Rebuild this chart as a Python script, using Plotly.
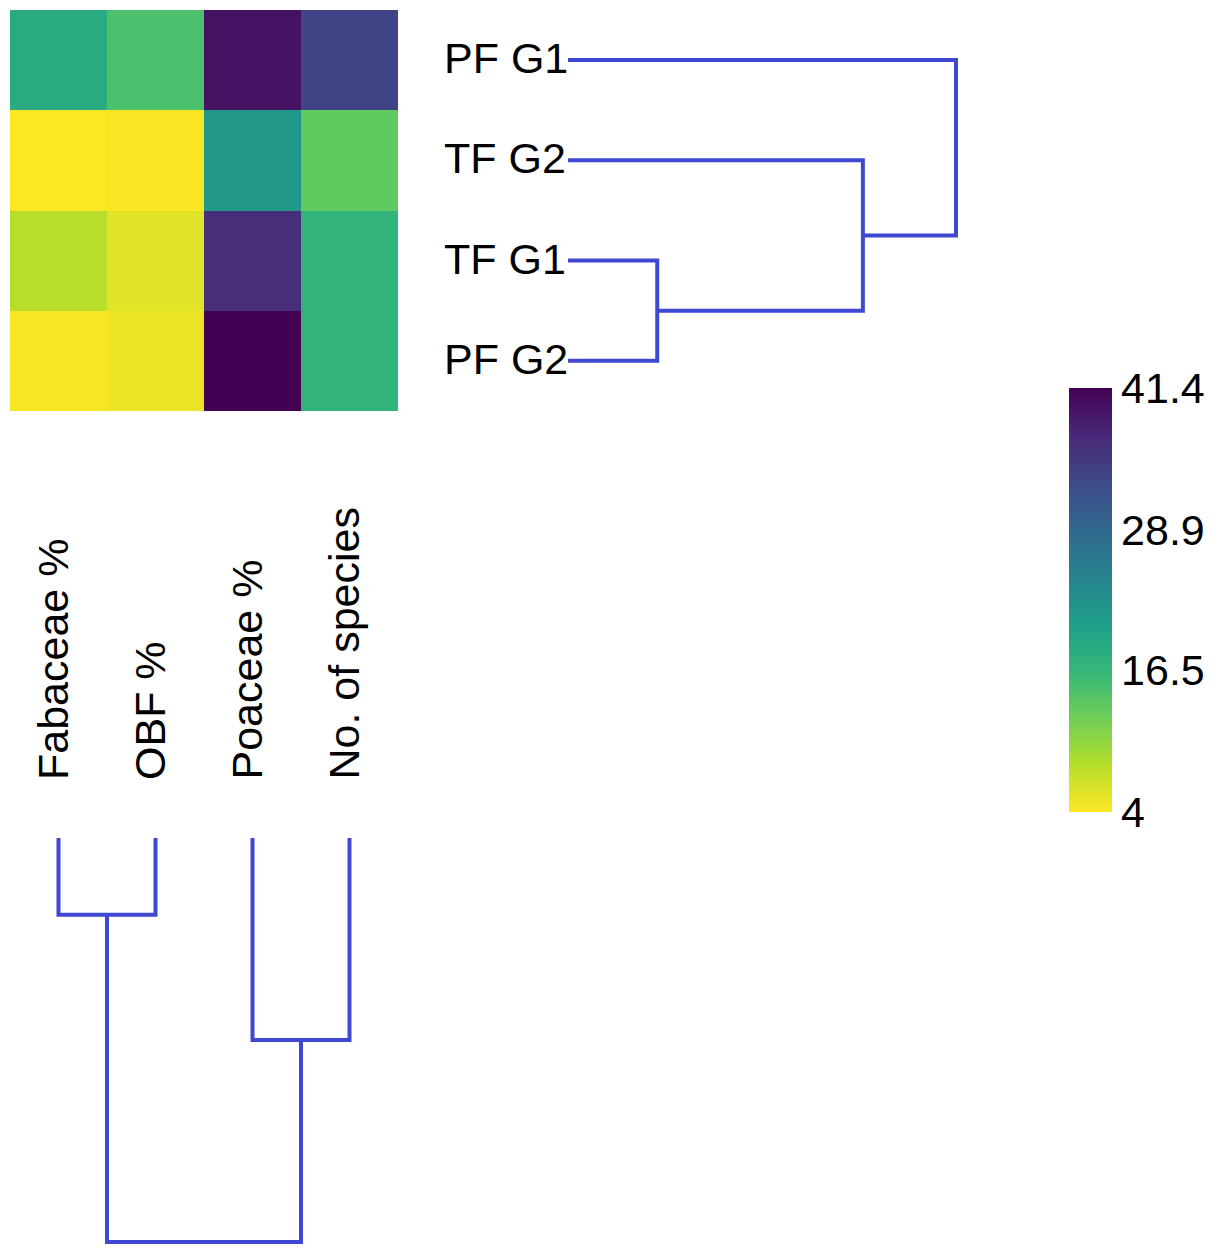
import plotly.graph_objects as go

# ---------------- data ----------------
row_labels = ["PF G1", "TF G2", "TF G1", "PF G2"]
col_labels = ["Fabaceae %", "OBF %", "Poaceae %", "No. of species"]

fabaceae = [18.6, 4.0, 8.1, 4.4]
obf = [14.8, 4.3, 5.7, 5.0]
poaceae = [39.5, 21.6, 36.5, 41.4]
species = [33.9, 13.3, 17.1, 17.1]

# linkage: (left child, right child, merge height); children >= n are clusters
row_linkage = [(2, 3, 0.23), (1, 4, 0.76), (0, 5, 1.0)]
col_linkage = [(0, 1, 0.19), (2, 3, 0.50), (4, 5, 1.0)]

cbar_ticks = [4, 16.5, 28.9, 41.4]
zmin, zmax = 4, 41.4

# ---------------- helpers ----------------
W, H = 1216, 1256
OFF = 8  # page body margin


def px_x(p):
    return (p - OFF) / W


def px_y(p):
    return 1 - (p - OFF) / H


def dendro(linkage, n):
    pos = {i: float(i) for i in range(n)}
    hgt = {i: 0.0 for i in range(n)}
    p_list, h_list = [], []
    for k, (a, b, h) in enumerate(linkage):
        p_list += [pos[a], pos[a], pos[b], pos[b], None]
        h_list += [hgt[a], h, h, hgt[b], None]
        pos[n + k] = (pos[a] + pos[b]) / 2
        hgt[n + k] = h
    return p_list, h_list


z = [[fabaceae[i], obf[i], poaceae[i], species[i]] for i in range(len(row_labels))]

fig = go.Figure()

fig.add_trace(go.Heatmap(
    z=z, x=list(range(4)), y=list(range(4)),
    colorscale="Viridis", reversescale=True, zmin=zmin, zmax=zmax,
    xaxis="x", yaxis="y", hoverinfo="skip",
    colorbar=dict(
        x=px_x(1069), xanchor="left", y=px_y(812), yanchor="bottom",
        len=424, lenmode="pixels", thickness=43, thicknessmode="pixels",
        xpad=0, ypad=0, outlinewidth=0, ticks="",
        tickvals=cbar_ticks, ticktext=[str(t) for t in cbar_ticks],
        tickfont=dict(size=43, color="black", family="Liberation Sans, Arial"),
    ),
))

line_color = "#3f48d0"

rp, rh = dendro(row_linkage, 4)
fig.add_trace(go.Scatter(x=rh, y=rp, mode="lines", xaxis="x2", yaxis="y",
                         line=dict(color=line_color, width=4), hoverinfo="skip",
                         showlegend=False))

cp, ch = dendro(col_linkage, 4)
fig.add_trace(go.Scatter(x=cp, y=ch, mode="lines", xaxis="x", yaxis="y3",
                         line=dict(color=line_color, width=4), hoverinfo="skip",
                         showlegend=False))

hidden = dict(visible=False, showgrid=False, zeroline=False, showticklabels=False)

# row dendrogram: height 0 at px 568, 1 at px 956
r0, r1 = 568, 956
d0, d1 = 556, 968
x2_range = [(d0 - r0) / (r1 - r0), (d1 - r0) / (r1 - r0)]

# column dendrogram: height 0 at px 838, 1 at px 1242
c0, c1 = 838, 1242
e0, e1 = 826, 1252
y3_range = [(e1 - c0) / (c1 - c0), (e0 - c0) / (c1 - c0)]

fig.update_layout(
    width=W, height=H, margin=dict(l=0, r=0, t=0, b=0),
    paper_bgcolor="white", plot_bgcolor="rgba(0,0,0,0)",
    showlegend=False,
    xaxis=dict(domain=[px_x(10), px_x(398)], range=[-0.5, 3.5], anchor="y", **hidden),
    yaxis=dict(domain=[px_y(411), px_y(10)], range=[3.5, -0.5], anchor="x", **hidden),
    xaxis2=dict(domain=[px_x(d0), px_x(d1)], range=x2_range, anchor="y", **hidden),
    yaxis3=dict(domain=[px_y(e1), px_y(e0)], range=y3_range, anchor="x", **hidden),
)

font = dict(size=43, color="black", family="Liberation Sans, Arial")
for i, lab in enumerate(row_labels):
    fig.add_annotation(text=lab, x=px_x(442), xref="paper", y=i, yref="y",
                       xanchor="left", yanchor="middle", showarrow=False, font=font,
                       yshift=2)
for j, lab in enumerate(col_labels):
    fig.add_annotation(text=lab, x=j, xref="x", y=px_y(782), yref="paper",
                       xanchor="center", yanchor="bottom", textangle=-90,
                       showarrow=False, font=font, xshift=-6)

fig.write_html("out.html")
